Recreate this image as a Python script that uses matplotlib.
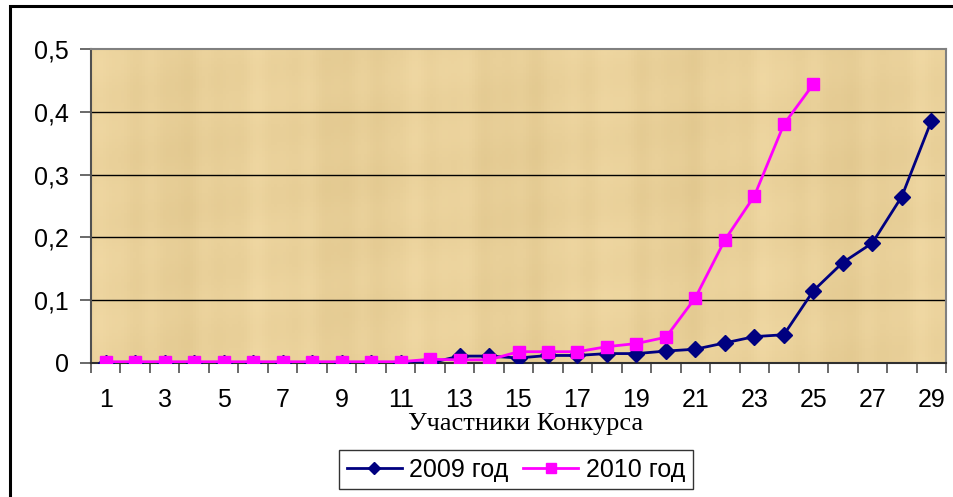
import numpy as np
import matplotlib
matplotlib.use("Agg")
import matplotlib.pyplot as plt
from matplotlib.patches import Rectangle
from matplotlib.ticker import FixedLocator, FuncFormatter

# Participants of the contest (category axis)
participants = list(range(1, 30))

# Scores, 2009 (29 participants)
score_2009 = [0, 0, 0, 0, 0, 0, 0, 0, 0, 0, 0, 0,
              0.011, 0.011, 0.008, 0.012, 0.012, 0.015, 0.015, 0.019,
              0.022, 0.032, 0.042, 0.045, 0.115, 0.160, 0.191, 0.265, 0.385]

# Scores, 2010 (25 participants)
score_2010 = [0.002, 0.002, 0.002, 0.002, 0.002, 0.002, 0.002, 0.002, 0.002, 0.002,
              0.002, 0.006, 0.005, 0.005, 0.018, 0.018, 0.018, 0.026, 0.031, 0.041,
              0.104, 0.196, 0.266, 0.380, 0.444]

series_labels = ["2009 год", "2010 год"]
x_title = "Участники Конкурса"
y_ticks = [0, 0.1, 0.2, 0.3, 0.4, 0.5]

W, H = 954, 497
fig = plt.figure(figsize=(W / 100, H / 100), dpi=100)
fig.patch.set_facecolor("white")

# Outer chart border
fig.add_artist(Rectangle((10 / W, -0.05), 1.2, 1 - 6 / H + 0.05,
                         transform=fig.transFigure, fill=False,
                         edgecolor="black", linewidth=2.2))

ax = fig.add_axes([91 / W, 1 - 363 / H, (946 - 91) / W, (363 - 49) / H])

# Papyrus-like background: soft vertical fibres on a tan base
nx, ny = 285, 105
xx = np.arange(nx)[None, :]
yy = np.arange(ny)[:, None]
fib = (np.sin(xx * 0.37) * 0.5 + np.sin(xx * 0.113 + 1.3) * 0.8
       + np.sin(xx * 0.71 + 0.4) * 0.3 + np.sin(yy * 0.29 + xx * 0.05) * 0.35
       + np.sin(yy * 0.07 + 2.0) * 0.3)
fib = fib / np.abs(fib).max()
base = np.array([233, 208, 153]) / 255.0
amp = np.array([7, 8, 10]) / 255.0
tex = np.clip(base[None, None, :] + fib[:, :, None] * amp[None, None, :], 0, 1)
ax.imshow(tex, extent=[0.5, 29.5, 0, 0.5], aspect="auto",
          interpolation="nearest", zorder=0)

ax.set_xlim(0.5, 29.5)
ax.set_ylim(0, 0.5)

# Horizontal gridlines
for v in y_ticks[1:-1]:
    ax.axhline(v, color="black", linewidth=1.0, zorder=1)

ax.plot(participants, score_2009, color="#000080", linewidth=2,
        marker="D", markersize=8, markerfacecolor="#000080",
        markeredgecolor="#000080", label=series_labels[0], zorder=3)
ax.plot(participants[:len(score_2010)], score_2010, color="#FF00FF", linewidth=2,
        marker="s", markersize=9, markerfacecolor="#FF00FF",
        markeredgecolor="#FF00FF", label=series_labels[1], zorder=4)

# Axes styling
for side in ["top", "right"]:
    ax.spines[side].set_color("#808080")
    ax.spines[side].set_linewidth(1.5)
ax.spines["left"].set_color("#505050")
ax.spines["bottom"].set_color("#303030")
ax.spines["left"].set_linewidth(1.5)
ax.spines["bottom"].set_linewidth(1.5)

ax.yaxis.set_major_locator(FixedLocator(y_ticks))
ax.yaxis.set_major_formatter(FuncFormatter(
    lambda v, p: "0" if v == 0 else f"{v:.1f}".replace(".", ",")))
ax.tick_params(axis="y", direction="out", length=8, width=1.2,
               color="#505050", labelsize=18, pad=8)

# Category ticks sit between categories, labels on every other category
ax.xaxis.set_minor_locator(FixedLocator(np.arange(0.5, 30, 1.0)))
ax.xaxis.set_major_locator(FixedLocator(participants[::2]))
ax.xaxis.set_major_formatter(FuncFormatter(lambda v, p: f"{int(v)}"))
ax.tick_params(axis="x", which="major", length=0, labelsize=18, pad=18)
ax.tick_params(axis="x", which="minor", direction="out", length=7, width=1.2,
               color="#505050")

for lbl in ax.get_xticklabels() + ax.get_yticklabels():
    lbl.set_fontfamily("Liberation Sans")

fig.text(526 / W, 1 - 430 / H, x_title, ha="center", va="baseline",
         fontsize=19, fontfamily="Liberation Serif")

leg = fig.legend(loc="center", bbox_to_anchor=(516 / W, 1 - 469.5 / H),
                 ncol=2, frameon=True, fancybox=False, edgecolor="black",
                 prop={"family": "Liberation Sans", "size": 18},
                 handlelength=2.2, columnspacing=0.6, handletextpad=0.3,
                 borderpad=0.3, markerscale=0.8)
leg.get_frame().set_linewidth(1.0)

fig.savefig("out.png", dpi=100, facecolor="white")
